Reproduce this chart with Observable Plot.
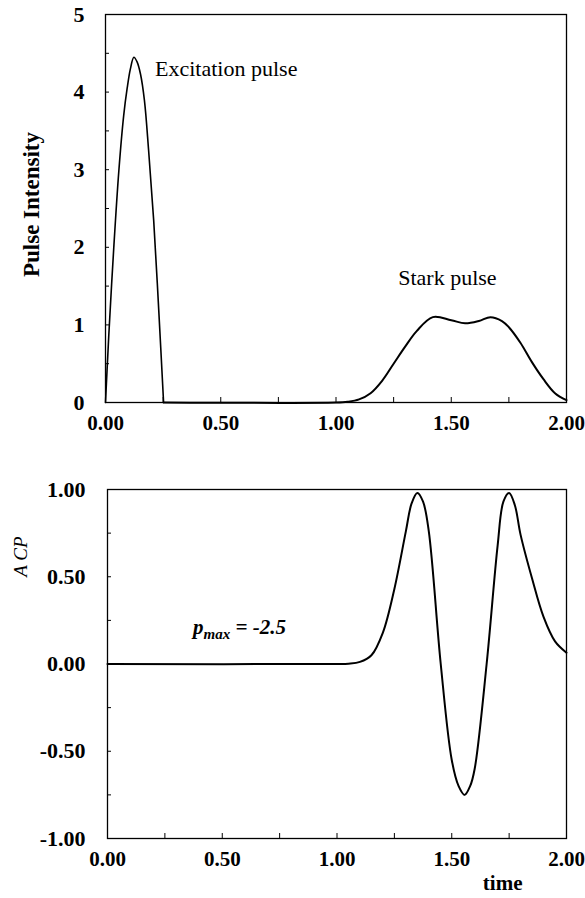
<!DOCTYPE html>
<html><head><meta charset="utf-8">
<script src="https://cdn.jsdelivr.net/npm/d3@7"></script>
<script src="https://cdn.jsdelivr.net/npm/@observablehq/plot@0.6"></script>
<style>
body{margin:0;background:#fff}
#c{width:585px;height:898px;position:relative}
#c svg{display:block}
</style>
</head><body><div id="c"></div>
<script>
// ---- Top panel: pulse intensities ----
const excTime      = [0, 0.004, 0.014, 0.036, 0.058, 0.079, 0.094, 0.108, 0.123, 0.137, 0.152, 0.169, 0.187, 0.209, 0.231, 0.252];
const excIntensity = [0, 0.25, 0.85, 2.0, 2.99, 3.7, 4.05, 4.3, 4.45, 4.39, 4.23, 3.89, 3.25, 2.35, 1.19, 0];
const starkTime      = [0.252, 1.0, 1.05, 1.1, 1.15, 1.2, 1.25, 1.3, 1.35, 1.42, 1.5, 1.56, 1.62, 1.67, 1.72, 1.75, 1.8, 1.85, 1.9, 1.95, 2.0];
const starkIntensity = [0, 0, 0.01, 0.04, 0.12, 0.28, 0.5, 0.72, 0.92, 1.1, 1.06, 1.02, 1.05, 1.1, 1.05, 0.97, 0.77, 0.52, 0.3, 0.12, 0.03];
// ---- Bottom panel: A_CP ----
const acpTime  = [0, 1.0, 1.05, 1.1, 1.15, 1.2, 1.25, 1.3, 1.325, 1.35, 1.375, 1.4, 1.452, 1.5, 1.53, 1.556, 1.58, 1.6, 1.652, 1.7, 1.725, 1.75, 1.775, 1.8, 1.85, 1.9, 1.95, 2.0];
const acpValue = [0, 0, 0.002, 0.012, 0.05, 0.18, 0.43, 0.76, 0.92, 0.98, 0.93, 0.76, 0.0, -0.55, -0.7, -0.75, -0.7, -0.6, 0.0, 0.68, 0.93, 0.98, 0.91, 0.74, 0.49, 0.27, 0.13, 0.065];

const xTicks = [0, 0.5, 1, 1.5, 2];
const xMinor = [0.25, 0.5, 0.75, 1, 1.25, 1.5, 1.75];
const topYTicks = [0, 1, 2, 3, 4, 5];
const topYMinor = [0.5, 1, 1.5, 2, 2.5, 3, 3.5, 4, 4.5];
const botYTicks = [-1, -0.5, 0, 0.5, 1];
const botYMinor = [-0.75, -0.5, -0.25, 0, 0.25, 0.5, 0.75];

const topLabels = [{t: 0.215, v: 4.3, text: "Excitation pulse"}, {t: 1.27, v: 1.6, text: "Stark pulse"}];
const pmaxLabel = {t: 0.375, v: 0.17, main: "p", sub: "max", rest: " = -2.5"};

const FONT = "'Liberation Serif', 'Times New Roman', serif";
const mk = (a, b) => a.map((t, i) => ({t, v: b[i]}));
const fmt2 = d => d.toFixed(2);

// panel geometry (margins)
const W = 585;
const T = {h: 430, l: 105, r: 19, t: 14, b: 28};
const B = {h: 468, l: 107, r: 19, t: 59, b: 60};
const innerW = p => W - p.l - p.r, innerH = p => p.h - p.t - p.b;

const topPlot = Plot.plot({
  width: W, height: T.h,
  marginLeft: T.l, marginRight: T.r, marginTop: T.t, marginBottom: T.b,
  style: {fontFamily: FONT, background: "white", overflow: "visible"},
  x: {domain: [0, 2]},
  y: {domain: [0, 5]},
  marks: [
    Plot.axisX(xTicks, {tickSize: 0, tickPadding: 13, tickFormat: fmt2, fontSize: 21, fontWeight: "bold", label: null}),
    Plot.axisY(topYTicks, {tickSize: 0, tickPadding: 21, tickFormat: d => String(d), fontSize: 22, fontWeight: "bold", label: null}),
    Plot.tickX(xMinor, {x: d => d, insetTop: innerH(T) - 5, stroke: "black"}),
    Plot.tickY(topYMinor, {y: d => d, insetRight: innerW(T) - 4, stroke: "black"}),
    Plot.text(["Pulse Intensity"], {frameAnchor: "left", textAnchor: "middle", rotate: -90, dx: -74, dy: -4, fontSize: 23, fontWeight: "bold", fill: "black"}),
    Plot.frame({stroke: "black", strokeWidth: 1.3}),
    Plot.line(mk(excTime, excIntensity), {x: "t", y: "v", curve: "catmull-rom", stroke: "black", strokeWidth: 1.6}),
    Plot.line(mk(starkTime, starkIntensity), {x: "t", y: "v", curve: "catmull-rom", stroke: "black", strokeWidth: 2}),
    Plot.text(topLabels, {x: "t", y: "v", text: "text", textAnchor: "start", fontSize: 22, fill: "black"})
  ]
});

const botPlot = Plot.plot({
  width: W, height: B.h,
  marginLeft: B.l, marginRight: B.r, marginTop: B.t, marginBottom: B.b,
  style: {fontFamily: FONT, background: "white", overflow: "visible"},
  x: {domain: [0, 2]},
  y: {domain: [-1, 1]},
  marks: [
    Plot.axisX(xTicks, {tickSize: 0, tickPadding: 13, tickFormat: fmt2, fontSize: 21, fontWeight: "bold", label: null}),
    Plot.axisY(botYTicks, {tickSize: 0, tickPadding: 22, tickFormat: fmt2, fontSize: 22, fontWeight: "bold", label: null}),
    Plot.tickX(xMinor, {x: d => d, insetTop: innerH(B) - 5, stroke: "black"}),
    Plot.tickY(botYMinor, {y: d => d, insetRight: innerW(B) - 4, stroke: "black"}),
    Plot.text(["A CP"], {frameAnchor: "top-left", textAnchor: "middle", rotate: -90, dx: -94, dy: 67, fontSize: 19, fontStyle: "italic", fill: "black"}),
    Plot.text(["time"], {frameAnchor: "bottom-right", dx: -44, dy: 51, fontSize: 21, fontWeight: "bold", fill: "black"}),
    Plot.frame({stroke: "black", strokeWidth: 1.3}),
    Plot.line(mk(acpTime, acpValue), {x: "t", y: "v", curve: "catmull-rom", stroke: "black", strokeWidth: 2})
  ]
});

// p_max annotation with subscript, positioned through the plot's scales
{
  const sx = botPlot.scale("x"), sy = botPlot.scale("y");
  const t = d3.select(botPlot).append("text")
    .attr("x", sx.apply(pmaxLabel.t)).attr("y", sy.apply(pmaxLabel.v))
    .attr("text-anchor", "start")
    .attr("font-family", FONT).attr("font-weight", "bold").attr("font-style", "italic")
    .attr("font-size", 21).attr("fill", "black");
  t.append("tspan").text(pmaxLabel.main);
  t.append("tspan").attr("dy", 5).attr("font-size", 15).text(pmaxLabel.sub);
  t.append("tspan").attr("dy", -5).text(pmaxLabel.rest);
}

document.getElementById("c").append(topPlot, botPlot);
</script>
</body></html>
